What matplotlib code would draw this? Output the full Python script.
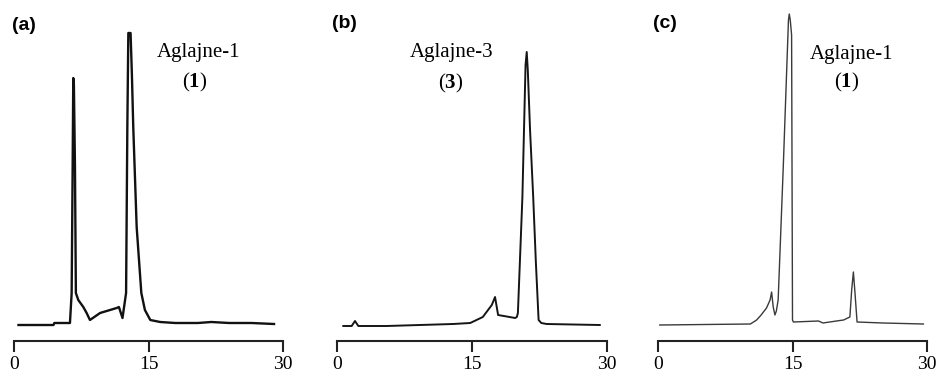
import matplotlib
matplotlib.use("Agg")
import matplotlib.pyplot as plt

plt.rcParams['mathtext.fontset'] = 'custom'
plt.rcParams['mathtext.rm'] = 'Liberation Serif'
plt.rcParams['mathtext.bf'] = 'Liberation Serif:bold'

# retention time (min) / detector response (arbitrary units)
t_a = [0.5, 4.4, 4.5, 6.05, 6.24, 6.43, 6.54, 6.61, 6.68, 6.8, 6.9, 7.17, 7.73,
       8.1, 8.47, 9.6, 11.45, 11.7, 12.1, 12.5, 12.64, 12.75, 13.0, 13.15, 13.3,
       13.68, 14.2, 14.6, 15.2, 16.3, 18.0, 20.5, 22.0, 24.0, 26.5, 29.0]
y_a = [0, 0, 2, 2, 2, 32, 158, 247, 240, 158, 32, 25, 18,
       12, 5, 12, 17, 18, 7, 32, 198, 292, 292, 250, 198,
       98, 32, 15, 5, 3, 2, 2, 3, 2, 2, 1]

t_b = [0.7, 1.63, 2.0, 2.37, 5.5, 9.2, 12.9, 14.8, 16.2, 17.2, 17.56, 17.9,
       19.8, 19.98, 20.1, 20.6, 20.95, 21.08, 21.2, 21.45, 21.8, 22.1, 22.4,
       22.7, 23.3, 29.2]
y_b = [-1, -1, 4, -1, -1, 0, 1, 2, 8, 20, 28, 10,
       7, 8, 12, 128, 260, 273, 255, 195, 128, 62, 5,
       2, 1, 0]

t_c = [0.2, 10.3, 11.0, 11.5, 12.1, 12.5, 12.67, 12.85, 13.04, 13.2, 13.4,
       13.97, 14.55, 14.64, 14.75, 14.9, 15.0, 15.1, 17.9, 18.4, 19.9, 20.7,
       21.4, 21.6, 21.79, 21.97, 22.2, 25.1, 29.6]
y_c = [0, 1, 5, 10, 17, 25, 33, 18, 10, 14, 25,
       158, 305, 311, 305, 290, 5, 3, 4, 2, 4, 5,
       8, 35, 53, 32, 3, 2, 1]

panel_tags = ['(a)', '(b)', '(c)']
compound_names = ['Aglajne-1', 'Aglajne-3', 'Aglajne-1']
compound_nums = ['1', '3', '1']
xticks = [0, 15, 30]

W, H = 942, 380
fig = plt.figure(figsize=(W / 100, H / 100), dpi=100)


def fx(x):
    return x / W


def fy(y):
    return 1 - y / H


# panel geometry in pixels (left, right), axis line at y=341, top at y=5
lefts = [14, 337, 658]
rights = [283, 607, 927]
tag_pos = [(12, 26), (332, 24), (653, 24)]
name_pos = [(199, 53), (452, 52), (852, 55)]
num_pos = [(195, 82), (451, 83), (847, 82)]
widths = [1.7, 1.4, 1.0]
colors = ['#111111', '#151515', '#3a3a3a']

traces = [(t_a, y_a), (t_b, y_b), (t_c, y_c)]

for i in range(3):
    ax = fig.add_axes([fx(lefts[i]), fy(341), fx(rights[i] - lefts[i]), (341 - 5) / H])
    t, y = traces[i]
    ax.plot(t, y, color=colors[i], lw=widths[i], solid_joinstyle='round')
    ax.set_xlim(0, 30)
    ax.set_ylim(-16, 320)
    for s in ['top', 'left', 'right']:
        ax.spines[s].set_visible(False)
    ax.spines['bottom'].set_linewidth(1.5)
    ax.spines['bottom'].set_color('#222222')
    ax.set_yticks([])
    ax.set_xticks(xticks)
    ax.set_xticklabels([str(v) for v in xticks], family='Liberation Serif', fontsize=14)
    ax.tick_params(axis='x', direction='out', length=8, width=1.5, color='#222222', pad=3)
    ax.patch.set_alpha(0)

    fig.text(fx(tag_pos[i][0]), fy(tag_pos[i][1]), panel_tags[i], family='Liberation Sans',
             fontweight='bold', fontsize=14, ha='left', va='center')
    fig.text(fx(name_pos[i][0]), fy(name_pos[i][1]), compound_names[i], family='Liberation Serif',
             fontsize=15, ha='center', va='center')
    fig.text(fx(num_pos[i][0]), fy(num_pos[i][1]), '($\\mathbf{' + compound_nums[i] + '}$)',
             family='Liberation Serif', fontsize=15, ha='center', va='center')

fig.savefig('out.png', dpi=100)
